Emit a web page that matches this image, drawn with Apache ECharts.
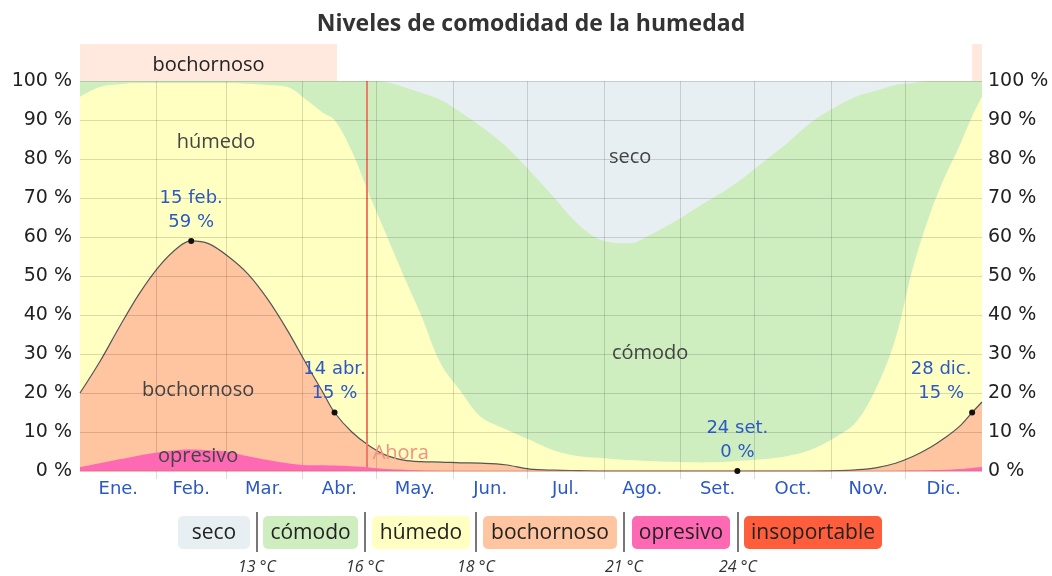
<!DOCTYPE html>
<html>
<head>
<meta charset="utf-8">
<title>Niveles de comodidad de la humedad</title>
<script src="https://cdn.jsdelivr.net/npm/echarts@6/dist/echarts.min.js"></script>
<style>
  html, body { margin: 0; padding: 0; background: #fff; }
  #main { width: 1052px; height: 576px; }
</style>
</head>
<body>
<div id="main"></div>
<script>
// día del año (0 = 1 ene.) de cada muestra
var days = [0, 8, 16, 24, 32, 40, 45, 52, 60, 68,
            76, 84, 92, 98, 103, 110, 117, 124, 131, 138,
            146, 154, 162, 172, 182, 192, 202, 212, 222, 232,
            242, 252, 260, 267, 276, 286, 296, 306, 314, 322,
            330, 337, 344, 350, 356, 361, 365];

// % del tiempo en cada nivel o más húmedo (acumulado)
var secoDays = [0, 365];
var secoTop = [100, 100];
var comodoCum = [100, 100, 100, 100, 100, 100, 100, 100, 100, 100,
                 100, 100, 100, 100, 100, 100, 100, 99.7, 98.5, 97,
                 95.2, 92, 88.5, 83.5, 77, 70, 63, 59, 58.4, 61,
                 64.5, 68.5, 71.5, 74.5, 79, 84, 89.5, 93.5, 96, 97.5,
                 99, 99.5, 100, 100, 100, 100, 100];
var humedoCum = [96, 98.5, 99.2, 99.5, 99.5, 99.5, 99.5, 99.5, 99.5, 99.3,
                 99, 98.5, 95, 92, 90, 82, 71, 60.5, 50, 40,
                 27.5, 20.5, 14, 10.8, 8, 5.2, 3.8, 3.3, 2.8, 2.5,
                 2.3, 2.2, 2.3, 2.6, 3, 3.8, 5.5, 8.8, 12.5, 21,
                 34, 52, 66, 75.5, 83.5, 91, 96];
var bochCum = [20, 28, 37, 45.5, 52.5, 57.5, 59, 58.3, 55, 50.5,
               44, 36, 27, 20.5, 15, 10, 6.5, 4, 2.8, 2.4,
               2.3, 2.1, 2, 1.6, 0.5, 0.2, 0.1, 0, 0, 0,
               0, 0, 0, 0, 0, 0, 0, 0.1, 0.3, 0.8,
               2, 3.7, 6, 8.5, 11.5, 15, 17.7];
var opresCum = [1, 2, 3, 4, 4.8, 5.4, 5.5, 5.3, 4.9, 3.8,
                2.8, 2, 1.5, 1.5, 1.4, 1.2, 0.9, 0.5, 0.3, 0.1,
                0, 0, 0, 0, 0, 0, 0, 0, 0, 0,
                0, 0, 0, 0, 0, 0, 0, 0, 0, 0,
                0, 0.1, 0.2, 0.3, 0.5, 0.8, 1];
var insopCum = [0, 0, 0, 0, 0, 0, 0, 0, 0, 0,
                0, 0, 0, 0, 0, 0, 0, 0, 0, 0,
                0, 0, 0, 0, 0, 0, 0, 0, 0, 0,
                0, 0, 0, 0, 0, 0, 0, 0, 0, 0,
                0, 0, 0, 0, 0, 0, 0];

// eje x
var monthStarts = [31, 59, 90, 120, 151, 181, 212, 243, 273, 304, 334];
var monthMids = [15.5, 45, 74.5, 105, 135.5, 166, 196.5, 227.5, 258, 288.5, 319, 349.5];
var monthNames = ['Ene.', 'Feb.', 'Mar.', 'Abr.', 'May.', 'Jun.', 'Jul.', 'Ago.', 'Set.', 'Oct.', 'Nov.', 'Dic.'];
var yTicks = [0, 10, 20, 30, 40, 50, 60, 70, 80, 90, 100];

// puntos destacados
var markDays = [45, 103, 266, 361];
var markVals = [59, 15, 0, 15];
var markNames = ['15 feb.', '14 abr.', '24 set.', '28 dic.'];

// periodo bochornoso y "ahora"
var muggyStart = [0, 361];
var muggyEnd = [104, 365];
var nowDay = 116;

// nombres dentro de las áreas
var areaNames = ['húmedo', 'seco', 'cómodo', 'bochornoso', 'opresivo'];
var areaDays = [55, 222.6, 230.7, 47.8, 47.8];
var areaPcts = [84.4, 80.5, 30.3, 20.8, 3.8];

// leyenda
var levelNames = ['seco', 'cómodo', 'húmedo', 'bochornoso', 'opresivo', 'insoportable'];
var levelColors = ['#e7eff3', '#cfeebf', '#ffffc2', '#ffc4a0', '#ff69b4', '#ff5e3c'];
var tempLabels = ['13 °C', '16 °C', '18 °C', '21 °C', '24 °C'];

var AX_FONT = '"DejaVu Sans", sans-serif';
var TX_FONT = '"Open Sans", "Noto Sans", sans-serif';
var BLUE = '#2b58c4';
var GRID = 'rgba(0,0,0,0.14)';

function pairs(xs, ys) {
    return xs.map(function (d, i) { return [d, ys[i]]; });
}

function areaSeries(name, xs, ys, color, z, line) {
    return {
        type: 'line',
        name: name,
        data: pairs(xs, ys),
        smooth: 0.35,
        symbol: 'none',
        silent: true,
        z: z,
        lineStyle: line || { opacity: 0 },
        areaStyle: { color: color, opacity: 1 }
    };
}

var chart = echarts.init(document.getElementById('main'));

// leyenda dibujada a mano (cajas, separadores, temperaturas)
var boxX = [178, 263, 372, 483, 632, 744];
var boxW = [72, 95, 98, 134, 98, 138];
var sepX = [257, 365, 476, 624, 738];
var graphics = [{
    type: 'text', x: 531, y: 24,
    style: {
        text: 'Niveles de comodidad de la humedad',
        align: 'center', verticalAlign: 'middle',
        textAlign: 'center', textVerticalAlign: 'middle',
        font: 'bold 23px ' + TX_FONT, fill: '#333'
    }
}];
levelNames.forEach(function (n, i) {
    graphics.push({
        type: 'rect',
        shape: { x: boxX[i], y: 516, width: boxW[i], height: 33, r: 5 },
        style: { fill: levelColors[i] }
    });
    graphics.push({
        type: 'text', x: boxX[i] + boxW[i] / 2, y: 533,
        style: {
            text: n, align: 'center', verticalAlign: 'middle',
            textAlign: 'center', textVerticalAlign: 'middle',
            font: '21px ' + TX_FONT, fill: '#222'
        }
    });
});
sepX.forEach(function (x, i) {
    graphics.push({
        type: 'line',
        shape: { x1: x, y1: 512, x2: x, y2: 552 },
        style: { stroke: '#777', lineWidth: 2 }
    });
    graphics.push({
        type: 'text', x: x, y: 567,
        style: {
            text: tempLabels[i], align: 'center', verticalAlign: 'middle',
            textAlign: 'center', textVerticalAlign: 'middle',
            font: 'italic 16px ' + TX_FONT, fill: '#333'
        }
    });
});

var yAxisBase = {
    type: 'value',
    min: 0,
    max: 109.5,
    z: 10,
    axisLine: { show: false },
    axisTick: { show: false, customValues: yTicks },
    axisLabel: {
        customValues: yTicks,
        formatter: '{value} %',
        color: '#222',
        fontSize: 19,
        fontFamily: AX_FONT
    }
};

// líneas verticales de los meses (de 0 % a 100 %) y la línea "Ahora"
var vLines = monthStarts.map(function (m) {
    return [{ coord: [m, 0], lineStyle: { color: GRID, width: 1 } }, { coord: [m, 100] }];
});
vLines.push([{ coord: [nowDay, 0], lineStyle: { color: '#f07a68', width: 2 } }, { coord: [nowDay, 100] }]);

var option = {
    animation: false,
    grid: { left: 80, right: 70, top: 44, bottom: 105 },
    graphic: graphics,
    xAxis: {
        type: 'value',
        min: 0,
        max: 365,
        z: 10,
        axisLine: { show: false },
        axisTick: {
            show: true,
            customValues: monthStarts,
            length: 8,
            lineStyle: { color: GRID }
        },
        axisLabel: {
            customValues: monthMids,
            formatter: function (v) {
                var i = monthMids.indexOf(v);
                return i >= 0 ? monthNames[i] : '';
            },
            color: BLUE,
            fontSize: 18,
            fontFamily: AX_FONT,
            margin: 9
        },
        splitLine: { show: false }
    },
    yAxis: [
        Object.assign({}, yAxisBase, {
            position: 'left',
            splitLine: { show: true, lineStyle: { color: GRID } }
        }),
        Object.assign({}, yAxisBase, {
            position: 'right',
            splitLine: { show: false },
            axisLabel: Object.assign({}, yAxisBase.axisLabel, { margin: 6 })
        })
    ],
    series: [
        areaSeries('seco', secoDays, secoTop, levelColors[0], 1),
        areaSeries('cómodo', days, comodoCum, levelColors[1], 2),
        areaSeries('húmedo', days, humedoCum, levelColors[2], 3),
        areaSeries('bochornoso', days, bochCum, levelColors[3], 4,
            { color: '#555', width: 1.2 }),
        areaSeries('opresivo', days, opresCum, levelColors[4], 5),
        areaSeries('insoportable', days, insopCum, levelColors[5], 6,
            { color: 'rgba(255,94,60,0.6)', width: 1 }),
        {
            // periodo bochornoso + líneas verticales
            type: 'line',
            name: 'periodo',
            data: [[0, null]],
            silent: true,
            z: 8,
            markArea: {
                silent: true,
                itemStyle: { color: 'rgba(255,140,90,0.2)' },
                label: {
                    show: true, position: 'insideTop', distance: 11,
                    color: '#222', fontSize: 20, fontFamily: TX_FONT
                },
                data: muggyStart.map(function (s, i) {
                    return [{ xAxis: s, name: i === 0 ? 'bochornoso' : '' }, { xAxis: muggyEnd[i] }];
                })
            },
            markLine: {
                silent: true,
                symbol: 'none',
                label: { show: false },
                lineStyle: { type: 'solid' },
                data: vLines
            }
        },
        {
            type: 'scatter',
            name: 'ahora',
            data: [[nowDay, 4.6]],
            symbolSize: 0,
            silent: true,
            z: 9,
            itemStyle: { opacity: 1 },
            label: {
                show: true, position: 'right', distance: 6, formatter: 'Ahora',
                color: '#f4907f', fontSize: 20, fontFamily: TX_FONT
            }
        },
        {
            type: 'scatter',
            name: 'nombres',
            data: areaDays.map(function (d, i) { return [d, areaPcts[i]]; }),
            symbolSize: 0,
            silent: true,
            z: 9,
            itemStyle: { opacity: 1 },
            label: {
                show: true, position: 'inside',
                formatter: function (p) { return areaNames[p.dataIndex]; },
                color: '#444', fontSize: 20, fontFamily: TX_FONT
            }
        },
        {
            type: 'scatter',
            name: 'destacados',
            data: markDays.map(function (d, i) {
                var item = { value: [d, markVals[i]] };
                if (i === markDays.length - 1) item.label = { offset: [-31, 0] };
                return item;
            }),
            symbol: 'circle',
            symbolSize: 6,
            itemStyle: { color: '#111', opacity: 1 },
            silent: true,
            z: 12,
            label: {
                show: true, position: 'top', distance: 4,
                formatter: function (p) {
                    return markNames[p.dataIndex] + '\n' + markVals[p.dataIndex] + ' %';
                },
                color: BLUE, fontSize: 18, lineHeight: 24, fontFamily: AX_FONT
            }
        }
    ]
};

chart.setOption(option);
</script>
</body>
</html>
